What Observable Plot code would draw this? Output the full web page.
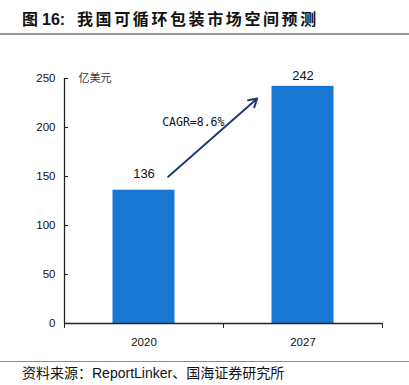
<!DOCTYPE html>
<html><head><meta charset="utf-8">
<script src="https://cdn.jsdelivr.net/npm/d3@7"></script>
<script src="https://cdn.jsdelivr.net/npm/@observablehq/plot@0.6"></script>
<style>
body{margin:0;background:#fff;width:409px;height:385px;overflow:hidden;font-family:"Liberation Sans","Noto Sans CJK SC",sans-serif;}
#title{position:relative;height:33px;border-bottom:2px solid #9a9a9a;}
#title span{position:absolute;top:7px;line-height:26px;font-size:16px;font-weight:bold;color:#111;white-space:nowrap;}
#chart svg{display:block}
#caption{border-top:1px solid #8a8a8a;height:23px;line-height:23px;padding-left:22px;font-size:14px;color:#111;white-space:nowrap;}
</style></head><body>
<div id="title"><span style="left:22px">图</span><span style="left:42px">16:</span><span style="left:77px;letter-spacing:2.6px">我国可循环包装市场空间预测</span></div>
<div id="chart"></div>
<div id="caption">资料来源：ReportLinker、国海证券研究所</div>
<script>
const categories = ["2020", "2027"];
const values = [136, 242];
const yTicks = [0, 50, 100, 150, 200, 250];
const unitLabel = "亿美元";
const cagrLabel = "CAGR=8.6%";
// annotation anchors in data units (x: band index position, y: value)
const arrowFrom = {x: 0.652, y: 149.7};
const arrowTo = {x: 1.212, y: 229.6};
const cagrPos = {x: 0.614, y: 205.8};

const bars = categories.map((c, i) => ({c, i, v: values[i]}));

const chart = Plot.plot({
  width: 409,
  height: 326,
  marginTop: 43,
  marginBottom: 38,
  marginLeft: 64,
  marginRight: 27,
  x: {domain: [0, categories.length], axis: null, label: null},
  y: {domain: [0, 250], axis: null, label: null},
  style: {fontFamily: '"Liberation Sans", Arial, sans-serif', background: "transparent", color: "#111"},
  marks: [
    Plot.rect(bars, {x1: d => d.i, x2: d => d.i + 1, y1: 0, y2: "v", fill: "#1777d3", insetLeft: 48.5, insetRight: 48.5}),
    Plot.ruleY([0], {stroke: "#222", strokeWidth: 1.3}),
    Plot.ruleX([0], {y1: 0, y2: 250, stroke: "#222", strokeWidth: 1.3}),
    Plot.axisY({ticks: yTicks, label: null, tickSize: -4, tickPadding: 13, fontSize: 11.5, stroke: "#222", fill: "#111"}),
    Plot.axisX({ticks: d3.range(categories.length + 1), label: null, tickSize: 5, tickFormat: () => "", stroke: "#222"}),
    Plot.axisX({ticks: categories.map((c, i) => i + 0.5), label: null, tickSize: 0, tickPadding: 14, tickFormat: t => categories[Math.floor(t)], fontSize: 11.5, fill: "#111"}),
    Plot.text([bars[0]], {x: d => d.i + 0.5, y: "v", text: d => String(d.v), dy: -16, fontSize: 13, fill: "#111"}),
    Plot.text([bars[1]], {x: d => d.i + 0.5, y: "v", text: d => String(d.v), dy: -10.5, fontSize: 13, fill: "#111"}),
    Plot.arrow([{from: arrowFrom, to: arrowTo}], {x1: d => d.from.x, y1: d => d.from.y, x2: d => d.to.x, y2: d => d.to.y, stroke: "#1f3a78", strokeWidth: 2, headLength: 7}),
    Plot.text([cagrLabel], {x: cagrPos.x, y: cagrPos.y, text: d => d, textAnchor: "start", fontSize: 11.5, fontFamily: '"DejaVu Sans Mono", monospace', fill: "#111"}),
    Plot.text([unitLabel], {frameAnchor: "top-left", dx: 14, text: d => d, textAnchor: "start", lineAnchor: "middle", fontSize: 11, fontFamily: '"Noto Sans CJK SC", sans-serif', fill: "#333"})
  ]
});
document.getElementById("chart").appendChild(chart);
</script>
</body></html>
